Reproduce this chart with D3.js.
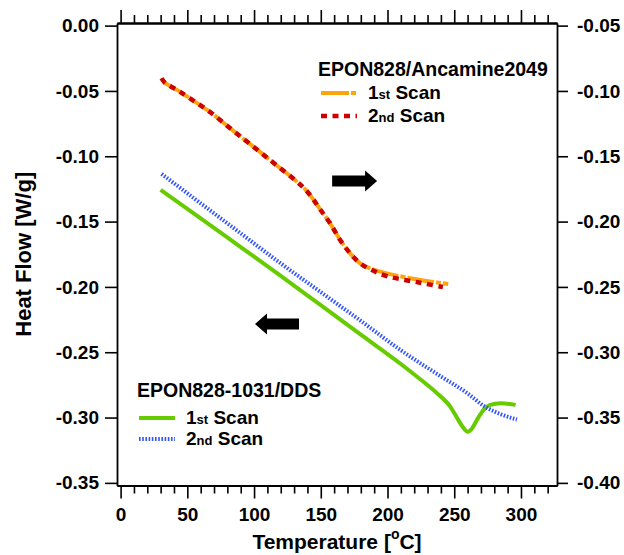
<!DOCTYPE html>
<html>
<head>
<meta charset="utf-8">
<script src="https://cdn.jsdelivr.net/npm/d3@7"></script>
<style>
  body { margin: 0; background: #fff; }
  svg text { font-family: "Liberation Sans", Arial, sans-serif; font-weight: bold; fill: #000; }
</style>
</head>
<body>
<script>
// Data
// EPON828/Ancamine2049 (right axis), temperature [C]
var ancT1 = [30.7, 33.2, 43.2, 55.7, 68.3, 80.7, 93.2, 105.8, 118.2, 130.7, 138.2, 144, 149.5, 157, 164.5, 172, 179.5, 187, 199.5, 224.5, 245.5];
var ancV1 = [-0.0903, -0.0937, -0.0998, -0.1082, -0.1171, -0.1274, -0.1376, -0.1478, -0.1580, -0.1682, -0.1752, -0.1825, -0.1906, -0.2013, -0.2141, -0.2243, -0.2319, -0.2358, -0.2396, -0.2447, -0.2478];
var ancT2 = [30.7, 33.2, 43.2, 55.7, 68.3, 80.7, 93.2, 105.8, 118.2, 130.7, 138.2, 144, 149.5, 157, 164.5, 172, 179.5, 187, 199.5, 224.5, 241.5];
var ancV2 = [-0.0903, -0.0937, -0.0998, -0.1082, -0.1171, -0.1274, -0.1376, -0.1478, -0.1580, -0.1682, -0.1752, -0.1825, -0.1906, -0.2013, -0.2141, -0.2243, -0.2319, -0.2365, -0.2417, -0.2468, -0.2501];

// EPON828-1031/DDS (left axis)
var ddsT1 = [30, 60, 90, 120, 150, 180, 210, 225, 237, 247, 253, 257, 260, 263.5, 267, 272, 277, 284.5, 296];
var ddsV1 = [-0.1258, -0.1475, -0.1695, -0.1915, -0.2140, -0.2365, -0.2590, -0.2711, -0.2813, -0.2916, -0.3018, -0.3081, -0.3108, -0.3081, -0.3018, -0.2941, -0.2903, -0.2890, -0.2903];
var ddsT2 = [30.7, 60, 90, 120, 150, 180, 210, 240, 260, 272, 285, 297];
var ddsV2 = [-0.1135, -0.1360, -0.1590, -0.1820, -0.2040, -0.2260, -0.2485, -0.2685, -0.2815, -0.2910, -0.2975, -0.3015];

// Tick labels
var xTicks = [0, 50, 100, 150, 200, 250, 300];
var xMinor = [10, 20, 30, 40, 60, 70, 80, 90, 110, 120, 130, 140, 160, 170, 180, 190, 210, 220, 230, 240, 260, 270, 280, 290, 310, 320];
var leftTicks = [0.00, -0.05, -0.10, -0.15, -0.20, -0.25, -0.30, -0.35];
var rightTicks = [-0.05, -0.10, -0.15, -0.20, -0.25, -0.30, -0.35, -0.40];

// Arrows: [T from, T to, heat flow on left axis]
var arrowRight = [158.5, 192.2, -0.1189];
var arrowLeft = [133.7, 100.7, -0.2283];

var width = 624, height = 555;
var pLeft = 117, pRight = 557, pTop = 23, pBottom = 485.5;

var svg = d3.select("body").append("svg").attr("width", width).attr("height", height);

// Scales
var x = d3.scaleLinear().domain([-2.7, 327]).range([pLeft, pRight]);
var yL = d3.scaleLinear().domain([-0.352, 0.002]).range([pBottom, pTop]);
var yR = d3.scaleLinear().domain([-0.402, -0.048]).range([pBottom, pTop]);

function fmt(d) { return d.toFixed(2); }

// Axes
svg.append("g").attr("transform", "translate(0," + pBottom + ")")
    .call(d3.axisBottom(x).tickValues(xTicks).tickSize(13).tickSizeOuter(0).tickPadding(9));
svg.append("g").attr("transform", "translate(0," + pBottom + ")")
    .call(d3.axisBottom(x).tickValues(xMinor).tickSize(8).tickSizeOuter(0).tickFormat(""));
svg.append("g").attr("transform", "translate(0," + pTop + ")")
    .call(d3.axisTop(x).tickValues(xTicks).tickSize(13).tickSizeOuter(0).tickFormat(""));
svg.append("g").attr("transform", "translate(0," + pTop + ")")
    .call(d3.axisTop(x).tickValues(xMinor).tickSize(8).tickSizeOuter(0).tickFormat(""));
svg.append("g").attr("transform", "translate(" + pLeft + ",0)")
    .call(d3.axisLeft(yL).tickValues(leftTicks).tickFormat(fmt).tickSize(12).tickSizeOuter(0).tickPadding(6));
svg.append("g").attr("transform", "translate(" + pRight + ",0)")
    .call(d3.axisRight(yR).tickValues(rightTicks).tickFormat(fmt).tickSize(11).tickSizeOuter(0).tickPadding(9));

svg.selectAll(".domain").attr("stroke", "#000").attr("stroke-width", 1.8);
svg.selectAll(".tick line").attr("stroke", "#000").attr("stroke-width", 1.6);
svg.selectAll(".tick text").style("font-size", "19px").style("font-family", "'Liberation Sans', Arial, sans-serif").style("font-weight", "bold");

// Axis titles
var xt = svg.append("text").attr("x", (pLeft + pRight) / 2).attr("y", 549)
    .attr("text-anchor", "middle").style("font-size", "21px");
xt.append("tspan").text("Temperature [");
xt.append("tspan").text("o").style("font-size", "14px").attr("dy", -10);
xt.append("tspan").text("C]").attr("dy", 10);

svg.append("text").attr("transform", "translate(31," + ((pTop + pBottom) / 2) + ") rotate(-90)")
    .attr("text-anchor", "middle").style("font-size", "22px").text("Heat Flow [W/g]");

// Curves
var lineL = d3.line().curve(d3.curveMonotoneX).x(function(d) { return x(d[0]); }).y(function(d) { return yL(d[1]); });
var lineR = d3.line().curve(d3.curveCatmullRom.alpha(0.5)).x(function(d) { return x(d[0]); }).y(function(d) { return yR(d[1]); });

function pairs(t, v) { return t.map(function(d, i) { return [d, v[i]]; }); }

var orange = "#ffa40a", red = "#cc0000", green = "#66cc00", blue = "#3355ff";

svg.append("path").datum(pairs(ddsT1, ddsV1)).attr("d", lineL)
    .attr("fill", "none").attr("stroke", green).attr("stroke-width", 4);
svg.append("path").datum(pairs(ddsT2, ddsV2)).attr("d", lineL)
    .attr("fill", "none").attr("stroke", blue).attr("stroke-width", 4).attr("stroke-dasharray", "1.6,1.6");
svg.append("path").datum(pairs(ancT1, ancV1)).attr("d", lineR)
    .attr("fill", "none").attr("stroke", orange).attr("stroke-width", 4).attr("stroke-dasharray", "27,2,5,2");
svg.append("path").datum(pairs(ancT2, ancV2)).attr("d", lineR)
    .attr("fill", "none").attr("stroke", red).attr("stroke-width", 4.5).attr("stroke-dasharray", "6,5.5");

// Arrows
function arrow(a) {
    var x0 = x(a[0]), x1 = x(a[1]), yc = yL(a[2]);
    var dir = x1 > x0 ? 1 : -1;
    var hx = x1 - dir * 12;
    var p = [[x0, yc - 5.5], [hx, yc - 5.5], [hx, yc - 10.5], [x1, yc], [hx, yc + 10.5], [hx, yc + 5.5], [x0, yc + 5.5]];
    svg.append("path").attr("d", "M" + p.join("L") + "Z").attr("fill", "#000");
}
arrow(arrowRight);
arrow(arrowLeft);

// Legends
function legendRow(lx, ly, num, suf, color, w, dash) {
    svg.append("line").attr("x1", lx).attr("x2", lx + 36).attr("y1", ly).attr("y2", ly)
        .attr("stroke", color).attr("stroke-width", w).attr("stroke-dasharray", dash);
    var t = svg.append("text").attr("x", lx + 47).attr("y", ly + 5.5).style("font-size", "19px");
    t.append("tspan").text(num);
    t.append("tspan").text(suf).style("font-size", "13px");
    t.append("tspan").text(" Scan");
}

svg.append("text").attr("x", 318).attr("y", 76).style("font-size", "19.5px").text("EPON828/Ancamine2049");
legendRow(321, 93, "1", "st", orange, 4, "28,2,5,2");
legendRow(321, 116, "2", "nd", red, 4.5, "6,5.5");

svg.append("text").attr("x", 137).attr("y", 397).style("font-size", "19.5px").text("EPON828-1031/DDS");
legendRow(139, 418, "1", "st", green, 4, null);
legendRow(139, 439, "2", "nd", blue, 4, "1.6,1.6");
</script>
</body>
</html>
